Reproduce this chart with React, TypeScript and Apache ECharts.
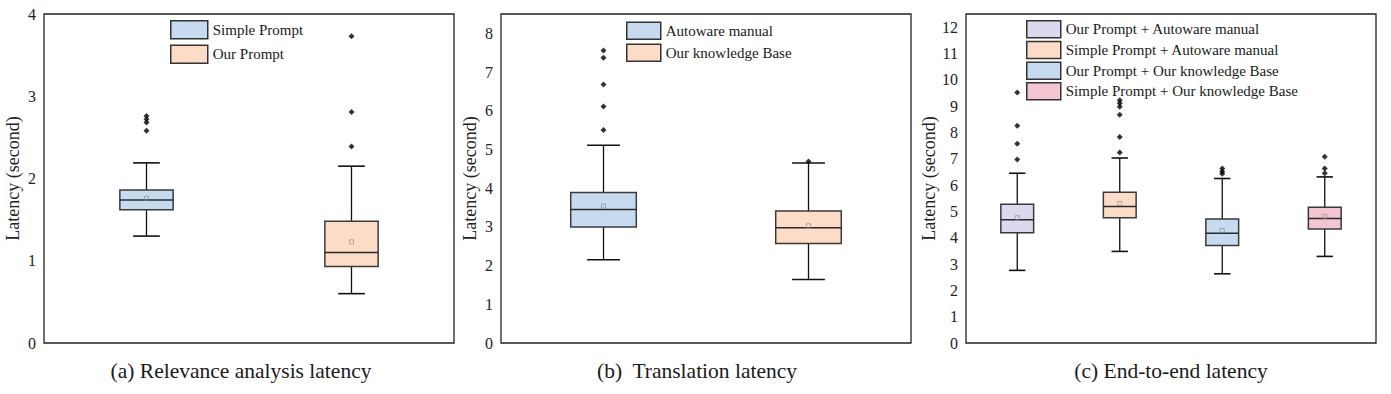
import React, { useEffect, useRef } from "react";
import * as echarts from "echarts";

// ---------- Data ----------
// (a) Relevance analysis latency
const relCategories = ["Simple Prompt", "Our Prompt"];
// [min(whisker), Q1, median, Q3, max(whisker)]
const relStats = [
  [1.3, 1.62, 1.74, 1.86, 2.19],
  [0.6, 0.93, 1.1, 1.48, 2.15],
];
const relMeans = [1.76, 1.23];
const relOutliers = [
  [2.58, 2.68, 2.72, 2.76],
  [2.39, 2.81, 3.73],
];

// (b) Translation latency
const trCategories = ["Autoware manual", "Our knowledge Base"];
const trStats = [
  [2.15, 3.0, 3.45, 3.89, 5.11],
  [1.64, 2.57, 2.98, 3.41, 4.65],
];
const trMeans = [3.54, 3.03];
const trOutliers = [
  [5.5, 6.11, 6.68, 7.37, 7.56],
  [4.69],
];

// (c) End-to-end latency
const e2eCategories = [
  "Our Prompt + Autoware manual",
  "Simple Prompt + Autoware manual",
  "Our Prompt + Our knowledge Base",
  "Simple Prompt + Our knowledge Base",
];
const e2eStats = [
  [2.76, 4.19, 4.68, 5.27, 6.45],
  [3.48, 4.76, 5.19, 5.73, 7.03],
  [2.63, 3.7, 4.17, 4.71, 6.25],
  [3.29, 4.33, 4.73, 5.16, 6.31],
];
const e2eMeans = [4.76, 5.3, 4.27, 4.81];
const e2eOutliers = [
  [6.97, 7.57, 8.25, 9.52],
  [7.24, 7.83, 8.67, 8.98, 9.11, 9.22],
  [6.43, 6.52, 6.63],
  [6.45, 6.63, 7.08],
];

const captions = [
  "(a) Relevance analysis latency",
  "(b)  Translation latency",
  "(c) End-to-end latency",
];
const yTitle = "Latency (second)";

// ---------- Styles ----------
const BLUE = "#c6dbef";
const ORANGE = "#fcdcc6";
const PURPLE = "#dcd8ee";
const PINK = "#f2c7d1";
const FONT = "Liberation Serif";

const panels = [
  {
    cats: relCategories, stats: relStats, means: relMeans, outliers: relOutliers,
    colors: [BLUE, ORANGE], max: 4, showMax: true, boxRatio: 0.26,
    left: 44, captionX: 241,
    legend: { left: 170, top: 20, itemWidth: 37, itemHeight: 18, itemGap: 5 },
  },
  {
    cats: trCategories, stats: trStats, means: trMeans, outliers: trOutliers,
    colors: [BLUE, ORANGE], max: 8.5, showMax: false, boxRatio: 0.32,
    left: 501, captionX: 697,
    legend: { left: 626, top: 21.5, itemWidth: 34, itemHeight: 17, itemGap: 3.6 },
  },
  {
    cats: e2eCategories, stats: e2eStats, means: e2eMeans, outliers: e2eOutliers,
    colors: [PURPLE, ORANGE, BLUE, PINK], max: 12.5, showMax: false, boxRatio: 0.32,
    left: 966, captionX: 1171,
    legend: { left: 1026, top: 20, itemWidth: 34, itemHeight: 17, itemGap: 2.2 },
  },
];

function makeRenderItem(ratio: number) {
  return (params: any, api: any) => {
    const x = api.value(0);
    const lo = api.coord([x, api.value(1)]);
    const q1 = api.coord([x, api.value(2)]);
    const med = api.coord([x, api.value(3)]);
    const q3 = api.coord([x, api.value(4)]);
    const hi = api.coord([x, api.value(5)]);
    const band = api.size([1, 0])[0];
    const bw = band * ratio;
    const cx = lo[0];
    const color = api.visual("color");
    const wStyle = { stroke: "#111", lineWidth: 1.3 };
    return {
      type: "group",
      children: [
        { type: "line", shape: { x1: cx, y1: hi[1], x2: cx, y2: q3[1] }, style: wStyle },
        { type: "line", shape: { x1: cx, y1: q1[1], x2: cx, y2: lo[1] }, style: wStyle },
        { type: "line", shape: { x1: cx - bw / 4, y1: hi[1], x2: cx + bw / 4, y2: hi[1] }, style: { stroke: "#111", lineWidth: 1.6 } },
        { type: "line", shape: { x1: cx - bw / 4, y1: lo[1], x2: cx + bw / 4, y2: lo[1] }, style: { stroke: "#111", lineWidth: 1.6 } },
        {
          type: "rect",
          shape: { x: cx - bw / 2, y: q3[1], width: bw, height: q1[1] - q3[1] },
          style: { fill: color, stroke: "#3a3a3a", lineWidth: 1.5 },
        },
        { type: "line", shape: { x1: cx - bw / 2, y1: med[1], x2: cx + bw / 2, y2: med[1] }, style: { stroke: "#2a2a2a", lineWidth: 1.5 } },
      ],
    };
  };
}

export default function App() {
  const ref = useRef<HTMLDivElement>(null);
  useEffect(() => {
    if (!ref.current) return;
    const chart = echarts.init(ref.current, undefined, { renderer: "svg" });
    const grid: any[] = [];
    const xAxis: any[] = [];
    const yAxis: any[] = [];
    const series: any[] = [];
    const legend: any[] = [];
    const graphic: any[] = [];

    panels.forEach((p, pi) => {
      grid.push({
        left: p.left, top: 14, width: 410, height: 329,
        show: true, borderColor: "#222", borderWidth: 1.3, backgroundColor: "transparent",
      });
      xAxis.push({
        type: "category", gridIndex: pi, data: p.cats,
        axisLine: { show: false }, axisTick: { show: false }, axisLabel: { show: false },
        splitLine: { show: false },
      });
      yAxis.push({
        type: "value", gridIndex: pi, min: 0, max: p.max, interval: 1,
        axisLine: { show: false }, axisTick: { show: false }, splitLine: { show: false },
        axisLabel: {
          showMaxLabel: p.showMax, margin: 8,
          fontFamily: FONT, fontSize: 16, color: "#222",
        },
        name: yTitle, nameLocation: "middle", nameGap: 22, nameRotate: 90,
        nameTextStyle: { fontFamily: FONT, fontSize: 18, color: "#222" },
      });
      p.cats.forEach((c, ci) => {
        series.push({
          type: "custom", name: c, xAxisIndex: pi, yAxisIndex: pi,
          renderItem: makeRenderItem(p.boxRatio),
          itemStyle: { color: p.colors[ci], borderColor: "#333", borderWidth: 1.5 },
          encode: { x: 0, y: [1, 2, 3, 4, 5] },
          data: [[ci, ...p.stats[ci]]],
          z: 2,
        });
      });
      series.push({
        type: "scatter", name: "outliers" + pi, xAxisIndex: pi, yAxisIndex: pi,
        symbol: "diamond", symbolSize: 6,
        itemStyle: { color: "#000" },
        data: p.outliers.flatMap((arr, ci) => arr.map((v) => [ci, v])),
        z: 3,
      });
      series.push({
        type: "scatter", name: "means" + pi, xAxisIndex: pi, yAxisIndex: pi,
        symbol: "rect", symbolSize: 4,
        itemStyle: { color: "rgba(0,0,0,0)", borderColor: "#888", borderWidth: 0.8 },
        data: p.means.map((m, ci) => [ci, m]),
        z: 4,
      });
      legend.push({
        data: p.cats, orient: "vertical", left: p.legend.left, top: p.legend.top,
        padding: 0, itemWidth: p.legend.itemWidth, itemHeight: p.legend.itemHeight,
        itemGap: p.legend.itemGap, icon: "rect", selectedMode: false,
        itemStyle: { borderColor: "#333", borderWidth: 1.5 },
        textStyle: { fontFamily: FONT, fontSize: 15, color: "#1a1a1a", padding: [0, 0, 0, 0] },
      });
      graphic.push({
        type: "text", x: p.captionX, y: 371,
        style: {
          text: captions[pi], fontFamily: FONT, fontSize: 21.5, fill: "#1a1a1a",
          textAlign: "center", textVerticalAlign: "middle",
        },
      });
    });

    chart.setOption({
      animation: false,
      backgroundColor: "#fff",
      grid, xAxis, yAxis, series, legend, graphic,
    });
    return () => chart.dispose();
  }, []);
  return (
    <div
      ref={ref}
      style={{ position: "absolute", left: 0, top: 0, width: 1391, height: 394 }}
    />
  );
}
